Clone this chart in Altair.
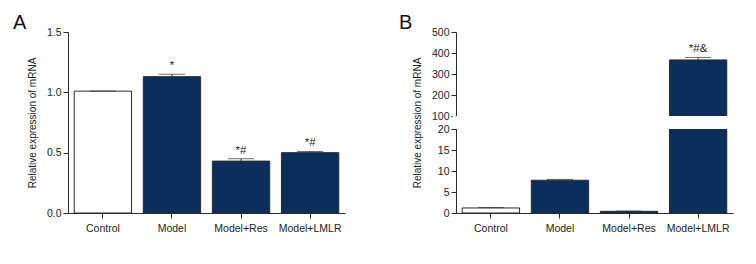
import altair as alt
import pandas as pd

groups = ["Control", "Model", "Model+Res", "Model+LMLR"]
fills = ["#ffffff", "#0b2e5c", "#0b2e5c", "#0b2e5c"]

a_values = [1.01, 1.13, 0.43, 0.50]
a_errors = [0.0, 0.02, 0.02, 0.01]
a_marks = ["", "*", "*#", "*#"]
a_ticks = [0, 0.5, 1.0, 1.5]

b_values = [1.2, 7.8, 0.4, 367]
b_errors = [0.1, 0.2, 0.05, 12]
b_marks = ["", "", "", "*#&"]
b_ticks = [0, 5, 10, 15, 20, 100, 200, 300, 400, 500]

FONT = "'Liberation Sans Narrow', 'Liberation Sans', Arial, sans-serif"
INK = "#2b2b2b"
W, H = 277, 181
YTITLE = "Relative expression of mRNA"


def panel(values, errors, marks, yscale, ticks, fmt, letter, letter_dx, gap=None):
    df = pd.DataFrame({
        "group": groups,
        "value": values,
        "top": [v + e for v, e in zip(values, errors)],
        "mark": marks,
    })
    yaxis = alt.Axis(values=ticks, format=fmt, labelFontSize=10.5,
                     labelOverlap=False, labelBound=False, grid=False,
                     titleFontSize=10, titleFontWeight="normal",
                     titlePadding=9, zindex=0)
    x = alt.X("group:N", sort=groups, title=None,
              scale=alt.Scale(paddingInner=0.17, paddingOuter=0.09),
              axis=alt.Axis(labelAngle=0, labelFontSize=10.5, labelPadding=5, zindex=0))
    base = alt.Chart(df).encode(x=x)
    bars = base.mark_bar(stroke=INK, strokeWidth=1).encode(
        y=alt.Y("value:Q", scale=yscale, title=YTITLE, axis=yaxis),
        fill=alt.Fill("group:N", scale=alt.Scale(domain=groups, range=fills), legend=None),
    )
    err = base.mark_rule(color=INK, strokeWidth=1).encode(
        y=alt.Y("value:Q", title=YTITLE, axis=yaxis), y2="top:Q")
    cap = base.mark_tick(color=INK, size=26, thickness=1).encode(
        y=alt.Y("top:Q", title=YTITLE, axis=yaxis))
    txt = base.mark_text(baseline="bottom", dy=-3, fontSize=11.5, font=FONT, color="#222").encode(
        y=alt.Y("top:Q", title=YTITLE, axis=yaxis), text="mark:N")
    layers = [bars, err, cap, txt]
    if gap is not None:
        gdf = pd.DataFrame({"lo": [gap[0]], "hi": [gap[1]]})
        rect = alt.Chart(gdf).mark_rect(fill="white").encode(
            x=alt.value(-3), x2=alt.value(W + 3),
            y=alt.Y("lo:Q", title=YTITLE, axis=yaxis), y2="hi:Q")
        layers.append(rect)
    ldf = pd.DataFrame({"t": [letter]})
    lab = alt.Chart(ldf).mark_text(align="left", baseline="alphabetic", fontSize=20,
                                   font=FONT, color="#111").encode(
        x=alt.value(letter_dx), y=alt.value(-3), text="t:N")
    layers.append(lab)
    return alt.layer(*layers).properties(width=W, height=H)


scale_a = alt.Scale(domain=[0, 1.5], nice=False)
scale_b = alt.Scale(domain=[0, 20, 100, 500], range=[181, 97, 84, 0], nice=False, zero=False)

pa = panel(a_values, a_errors, a_marks, scale_a, a_ticks, ".1f", "A", -55)
pb = panel(b_values, b_errors, b_marks, scale_b, b_ticks, "d", "B", -57, gap=(20.6, 99.3))

chart = alt.hconcat(pa, pb, spacing=54).configure(background="white").configure_view(
    strokeWidth=0, stroke="transparent").configure_axis(
    domainColor=INK, tickColor=INK, labelColor="#222", titleColor="#222",
    tickSize=5, grid=False, labelFont=FONT, titleFont=FONT, labelOverlap=False,
)

chart.save("out.html", embed_options={"renderer": "svg", "actions": False})
